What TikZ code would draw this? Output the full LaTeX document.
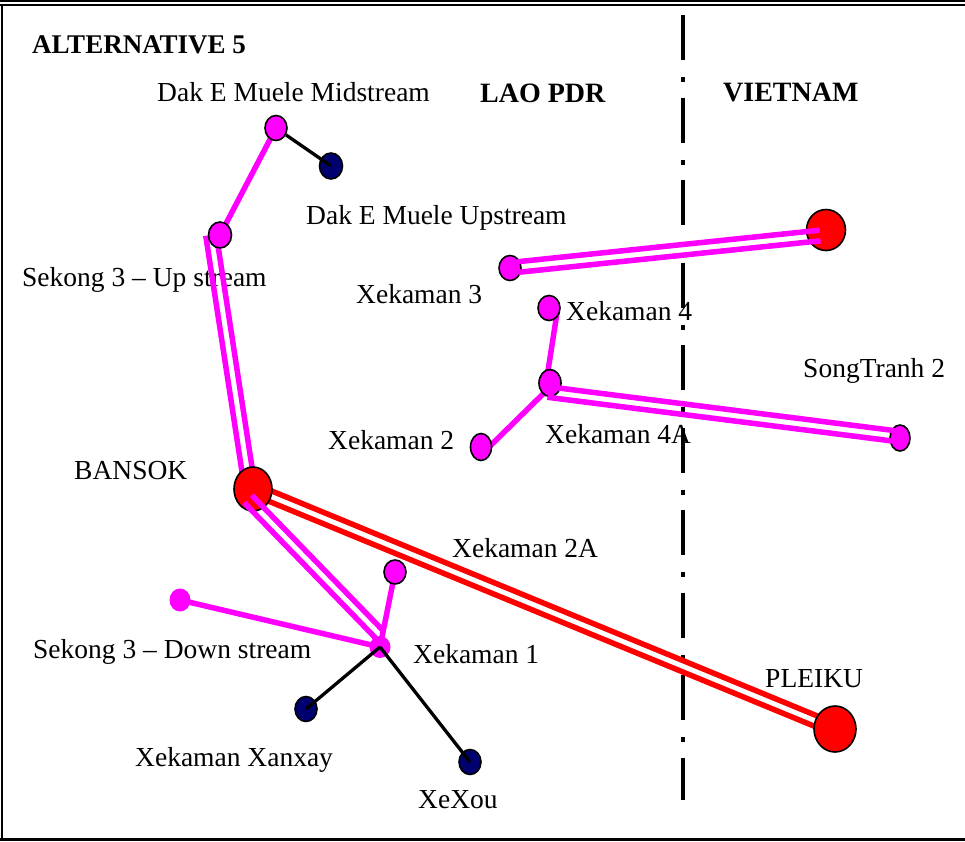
\documentclass[tikz,border=0pt]{standalone}
\usepackage{fontspec}
\setmainfont{Liberation Serif}
\usetikzlibrary{shapes.geometric,calc}
\pgfdeclarelayer{lbl}\pgfdeclarelayer{bg}\pgfdeclarelayer{fg}
\pgfsetlayers{lbl,bg,main,fg}
\definecolor{mag}{RGB}{255,0,255}
\definecolor{nav}{RGB}{0,0,110}
\definecolor{rd}{RGB}{255,0,0}
\newcommand\twin[3]{%
  \draw[line width=5.5pt,#1] ($(#2)!5.3pt!90:(#3)$) -- ($(#3)!5.3pt!-90:(#2)$);
  \draw[line width=5.5pt,#1] ($(#2)!5.3pt!-90:(#3)$) -- ($(#3)!5.3pt!90:(#2)$);}
\begin{document}
\begin{tikzpicture}[x=1pt,y=-1pt,
  site/.style={ellipse,draw=black,line width=1.6pt,inner sep=0,minimum width=22pt,minimum height=25pt},
  msite/.style={site,fill=mag},
  nsite/.style={site,fill=nav},
  bigsite/.style={site,fill=rd},
  plainsite/.style={ellipse,fill=mag,inner sep=0,minimum width=21pt,minimum height=22pt},
  lbl/.style={anchor=base west,inner sep=0,font=\fontsize{27.5}{30}\selectfont},
  hdr/.style={anchor=base west,inner sep=0,font=\fontsize{28}{30}\selectfont\bfseries},
  mline/.style={draw=mag,line width=5.5pt},
  kline/.style={draw=black,line width=3.3pt}]
\useasboundingbox (0,0) rectangle (965,841);
% frame
\draw[line width=2.3pt] (0,1.2) -- (965,1.2);
\draw[line width=2pt] (0,5) -- (965,5);
\draw[line width=2.5pt] (2,5) -- (2,841);
\draw[line width=3pt] (0,839.5) -- (965,839.5);

% sites
\node[msite] (mid) at (276,128) {};
\node[nsite,minimum width=23pt,minimum height=26pt] (up) at (331,166) {};
\node[msite,minimum width=23pt,minimum height=26pt] (sup) at (220,235) {};
\node[bigsite,minimum width=38pt,minimum height=44pt] (bansok) at (253,489) {};
\node[msite,minimum height=24pt] (x2a) at (395,572) {};
\node[plainsite] (x1) at (380,647) {};
\node[plainsite,minimum height=23pt] (sdown) at (180,600) {};
\node[nsite] (xan) at (306,709) {};
\node[nsite] (xexou) at (470,762) {};
\node[bigsite,minimum width=42pt,minimum height=46pt] (pleiku) at (835,729) {};
\node[bigsite,minimum width=39pt,minimum height=41pt] (vn) at (826,230) {};
\node[msite,minimum width=20pt,minimum height=26pt] (st) at (900,438) {};
\node[msite] (x3) at (510,268) {};
\node[msite] (x4) at (549,308) {};
\node[msite,minimum height=27pt] (x4a) at (550,383) {};
\node[msite,minimum width=21pt,minimum height=27pt] (x2) at (481,447) {};

\begin{pgfonlayer}{lbl}
\node[hdr,font=\fontsize{27}{30}\selectfont\bfseries] (t0) at (32,53) {ALTERNATIVE 5};
\node[hdr] (t1) at (480,102) {LAO PDR};
\node[hdr] (t2) at (723,101) {VIETNAM};
\node[lbl] (l1) at (157,101) {Dak E Muele Midstream};
\node[lbl] (l2) at (306,224) {Dak E Muele Upstream};
\node[lbl] (l3) at (22,286) {Sekong 3 – Up stream};
\node[lbl] (l4) at (356,303) {Xekaman 3};
\node[lbl] (l5) at (566,320) {Xekaman 4};
\node[lbl] (l6) at (803,377) {SongTranh 2};
\node[lbl] (l7) at (328,449) {Xekaman 2};
\node[lbl] (l8) at (545,443) {Xekaman 4A};
\node[lbl] (l9) at (74,479) {BANSOK};
\node[lbl] (l10) at (452,557) {Xekaman 2A};
\node[lbl] (l11) at (33,658) {Sekong 3 – Down stream};
\node[lbl] (l12) at (413,663) {Xekaman 1};
\node[lbl] (l13) at (765,687) {PLEIKU};
\node[lbl] (l14) at (135,766) {Xekaman Xanxay};
\node[lbl] (l15) at (418,808) {XeXou};
% border line
\coordinate (btop) at (683,15);
\coordinate (bbot) at (683,800);
\draw[line width=4.5pt,dash pattern=on 45pt off 17pt on 5pt off 15.5pt] (btop) -- (bbot);
\end{pgfonlayer}

\coordinate (s1) at ($(sup.center)+(-9,0)$);
\coordinate (b1) at ($(bansok.center)+(-3,0)$);
\coordinate (b2) at ($(bansok.center)+(-5,10)$);
\coordinate (k1) at ($(x1.center)+(0,-12)$);
\coordinate (x3a) at ($(x3.center)+(8,-1)$);
\coordinate (vna) at ($(vn.center)+(-6,5.5)$);
\coordinate (x4b) at ($(x4a.center)+(-2,9)$);
\coordinate (sta) at ($(st.center)+(-5,-2)$);
\coordinate (x4c) at ($(x4.center)+(8,5)$);
\coordinate (x4d) at ($(x4a.center)+(-3,-6)$);
\coordinate (x4e) at ($(x4a.center)+(-5,9)$);
\coordinate (x2b) at ($(x2.center)+(7,1)$);

\begin{pgfonlayer}{bg}
\draw[mline] (mid.center) -- (sup.center);
\draw[mline] (x4c) -- (x4d);
\draw[mline] (x4e) -- (x2b);
\draw[mline] (x2a.center) -- (x1.center);
\draw[mline] (sdown.center) -- (x1.center);
\twin{mag}{s1}{b1}
\twin{rd}{bansok.center}{pleiku.center}
\end{pgfonlayer}

\begin{pgfonlayer}{fg}
\draw[kline] (mid) -- (up.center);
\draw[kline] (x1.center) -- (xan.center);
\draw[kline] (x1.center) -- (xexou.center);
\twin{mag}{b2}{k1}
\twin{mag}{x3a}{vna}
\twin{mag}{x4b}{sta}
\end{pgfonlayer}
\end{tikzpicture}
\end{document}
